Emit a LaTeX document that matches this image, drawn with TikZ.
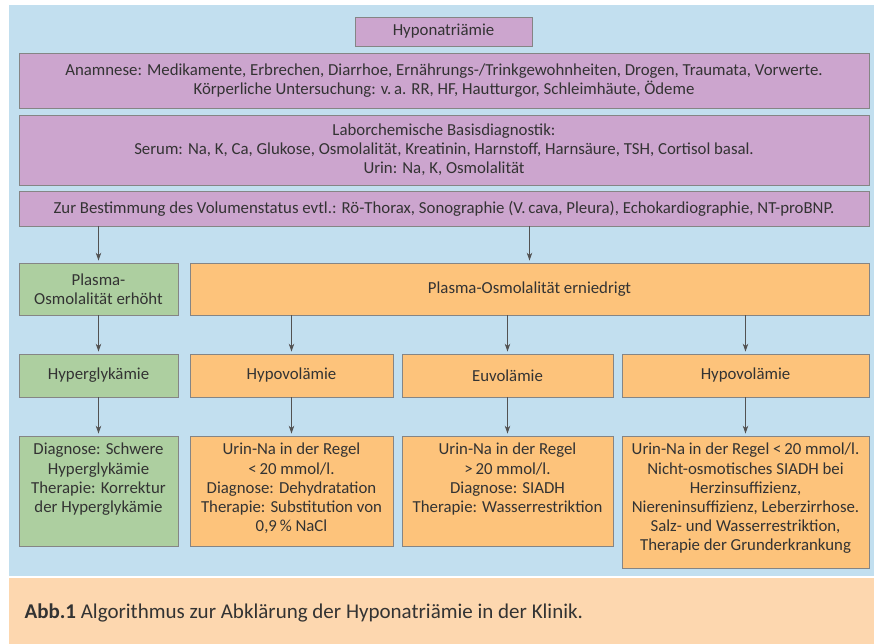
\documentclass[tikz,border=0pt]{standalone}
\usepackage{fontspec}
\setmainfont{Carlito}
\usepackage{tikz}
\usetikzlibrary{
  arrows.meta
  , positioning
}
\definecolor{BgBlue}{HTML}{C2DFEF}
\definecolor{BgPeach}{HTML}{FDD7AF}
\definecolor{BoxPurple}{HTML}{CCA5CE}
\definecolor{BoxGreen}{HTML}{ADCFA0}
\definecolor{BoxOrange}{HTML}{FDC37B}
\definecolor{BoxLine}{HTML}{858585}
\definecolor{TxtGray}{HTML}{333333}

\begin{document}
\begin{tikzpicture}[x=1pt, y=-1pt,
    every node/.style={font=\fontsize{16.8pt}{19.2pt}\selectfont, text=TxtGray},
    box/.style={draw=BoxLine, line width=0.8pt, inner sep=0pt, align=center},
    arr/.style={-{Stealth[length=8pt,width=5.5pt]}, draw=TxtGray!85, line width=0.8pt, shorten >=2pt},
  ]
    \useasboundingbox (0,0) rectangle (874,644);
    % background panels
    \fill[BgBlue] (9,5) rectangle (874,576);
    \fill[BgPeach] (9,578) rectangle (874,644);

    % top block
    \def\TopColor {BoxPurple};
    \node [box, fill=\TopColor, minimum width=177, minimum height=29] (Hypo) at (443.5, 31.5) {Hyponatriämie};
    \node [box, fill=\TopColor, minimum width=850, minimum height=55] (Anam) at (444, 80.5)
      {Anamnese: Medikamente, Erbrechen, Diarrhoe, Ernährungs-/Trinkgewohnheiten, Drogen, Traumata, Vorwerte.\\
       Körperliche Untersuchung: v.\,a. RR, HF, Hautturgor, Schleimhäute, Ödeme};
    \node [box, fill=\TopColor, minimum width=850, minimum height=70] (Labor) at (444, 150)
      {Laborchemische Basisdiagnostik:\\
       Serum: Na, K, Ca, Glukose, Osmolalität, Kreatinin, Harnstoff, Harnsäure, TSH, Cortisol basal.\\
       Urin: Na, K, Osmolalität};
    \node [box, fill=\TopColor, minimum width=850, minimum height=35] (Volumen) at (444, 208.5)
      {Zur Bestimmung des Volumenstatus evtl.: Rö-Thorax, Sonographie (V.\,cava, Pleura), Echokardiographie, NT-proBNP.};

    % osmolality
    \node [box, fill=BoxGreen, minimum width=159, minimum height=52] (OsmHigh) at (98.5, 289)
      {Plasma-\\Osmolalität erhöht};
    \node [box, fill=BoxOrange, minimum width=679, minimum height=52] (OsmLow) at (529.5, 289)
      {Plasma-Osmolalität erniedrigt};

    % volume status
    \node [box, fill=BoxGreen, minimum width=159, minimum height=43] (Hyper) at (98.5, 375.5) {Hyperglykämie};
    \node [box, fill=BoxOrange, minimum width=203, minimum height=43] (HypoVolA) at (291.5, 375.5) {Hypovolämie};
    \node [box, fill=BoxOrange, minimum width=211, minimum height=43] (EuVol) at (507.5, 375.5) {Euvolämie};
    \node [box, fill=BoxOrange, minimum width=247, minimum height=43] (HypoVolB) at (745.5, 375.5) {Hypovolämie};

    % diagnosis / therapy
    \node [box, fill=BoxGreen, minimum width=159, minimum height=110] (HyperDx) at (98.5, 491) {};
    \node [box, fill=BoxOrange, minimum width=203, minimum height=110] (HypoVolADx) at (291.5, 491) {};
    \node [box, fill=BoxOrange, minimum width=211, minimum height=110] (EuVolDx) at (507.5, 491) {};
    \node [box, fill=BoxOrange, minimum width=247, minimum height=132] (HypoVolBDx) at (745.5, 502) {};

    \node [below=4pt of HyperDx.north, align=center] (HyperTxt)
      {Diagnose: Schwere\\Hyperglykämie\\Therapie: Korrektur\\der Hyperglykämie};
    \node [below=4pt of HypoVolADx.north, align=center] (HypoVolATxt)
      {Urin-Na in der Regel\\<\,20 mmol/l.\\Diagnose: Dehydratation\\Therapie: Substitution von\\0,9\,\% NaCl};
    \node [below=4pt of EuVolDx.north, align=center] (EuVolTxt)
      {Urin-Na in der Regel\\>\,20 mmol/l.\\Diagnose: SIADH\\Therapie: Wasserrestriktion};
    \node [below=4pt of HypoVolBDx.north, align=center] (HypoVolBTxt)
      {Urin-Na in der Regel <\,20 mmol/l.\\Nicht-osmotisches SIADH bei\\Herzinsuffizienz,\\Niereninsuffizienz, Leberzirrhose.\\Salz- und Wasserrestriktion,\\Therapie der Grunderkrankung};

    % arrows
    \draw[arr] (Volumen.south -| OsmHigh.north) -- (OsmHigh.north);
    \draw[arr] (Volumen.south -| OsmLow.north) -- (OsmLow.north);
    \draw[arr] (OsmHigh.south) -- (Hyper.north);
    \draw[arr] (OsmLow.south -| HypoVolA.north) -- (HypoVolA.north);
    \draw[arr] (OsmLow.south -| EuVol.north) -- (EuVol.north);
    \draw[arr] (OsmLow.south -| HypoVolB.north) -- (HypoVolB.north);
    \draw[arr] (Hyper.south) -- (HyperDx.north);
    \draw[arr] (HypoVolA.south) -- (HypoVolADx.north);
    \draw[arr] (EuVol.south) -- (EuVolDx.north);
    \draw[arr] (HypoVolB.south) -- (HypoVolBDx.north);

    % caption
    \node [anchor=west, font=\fontsize{21pt}{24pt}\selectfont] (Caption) at (21, 613)
      {\textbf{Abb.1} Algorithmus zur Abklärung der Hyponatriämie in der Klinik.};
\end{tikzpicture}
\end{document}
